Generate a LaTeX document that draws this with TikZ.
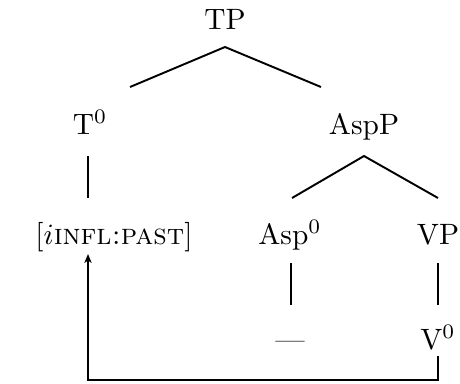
\documentclass[tikz,border=0pt]{standalone}
\usetikzlibrary{arrows.meta}
\begin{document}
\begin{tikzpicture}[x=0.3636pt,y=-0.3636pt,
  lab/.style={anchor=base,inner sep=0pt,outer sep=0pt,scale=1.07},
  branch/.style={line width=0.7pt},
  move/.style={line width=0.7pt,-{Stealth[length=3.2pt,width=2.6pt,inset=0.8pt]}}]
\useasboundingbox (0,0) rectangle (460,383);
\node[lab] (TP) at (225,29) {TP};
\node[lab] (T0) at (90,134) {T$^0$};
\node[lab] (AspP) at (364,134) {AspP};
\node[lab] (infl) at (114,244) {[$i$\textsc{infl:past}]};
\node[lab] (Asp0) at (290,244) {Asp$^0$};
\node[lab] (VP) at (438,244) {VP};
\node[lab] (gap) at (290,349) {---};
\node[lab] (V0) at (438,349) {V$^0$};
% branch points
\coordinate (tpA) at (225,47);
\coordinate (tpL) at (130,87);
\coordinate (tpR) at (321,87);
\coordinate (t0a) at (88,156);
\coordinate (t0b) at (88,198);
\coordinate (aspA) at (364,156);
\coordinate (aspL) at (292,198);
\coordinate (aspR) at (438,198);
\coordinate (a0a) at (291,263);
\coordinate (a0b) at (291,305);
\coordinate (vpa) at (438,263);
\coordinate (vpb) at (438,305);
\coordinate (mvS) at (438,356);
\coordinate (mvR) at (438,380);
\coordinate (mvL) at (88,380);
\coordinate (mvE) at (88,254);
\draw[branch] (tpL) -- (tpA) -- (tpR);
\draw[branch] (t0a) -- (t0b);
\draw[branch] (aspL) -- (aspA) -- (aspR);
\draw[branch] (a0a) -- (a0b);
\draw[branch] (vpa) -- (vpb);
\draw[move] (mvS) -- (mvR) -- (mvL) -- (mvE);
\end{tikzpicture}
\end{document}
